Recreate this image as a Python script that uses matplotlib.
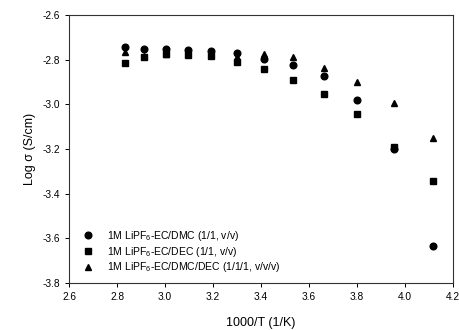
import matplotlib
matplotlib.use('Agg')
import matplotlib.pyplot as plt

plt.rcParams['font.family'] = ['Liberation Sans', 'DejaVu Sans']
plt.rcParams['mathtext.default'] = 'regular'

# 1000/T (1/K), -30..80 C
inv_t = [2.832, 2.914, 3.002, 3.096, 3.193, 3.299, 3.411, 3.532, 3.661, 3.801, 3.953, 4.118]

# log conductivity for each electrolyte
ec_dmc = [-2.742, -2.751, -2.752, -2.757, -2.761, -2.771, -2.795, -2.824, -2.874, -2.982, -3.201, -3.635]
ec_dec = [-2.813, -2.786, -2.776, -2.779, -2.783, -2.809, -2.843, -2.891, -2.955, -3.044, -3.189, -3.342]
ec_dmc_dec = [-2.767, -2.785, -2.774, -2.776, -2.779, -2.789, -2.776, -2.788, -2.839, -2.900, -2.994, -3.149]

labels = ['1M LiPF$_6$-EC/DMC (1/1, v/v)',
          '1M LiPF$_6$-EC/DEC (1/1, v/v)',
          '1M LiPF$_6$-EC/DMC/DEC (1/1/1, v/v/v)']

fig = plt.figure(figsize=(4.6, 3.3), dpi=100)
ax = fig.add_axes([0.15, 0.1424, 0.835, 0.812])

ax.plot(inv_t, ec_dmc, 'o', color='black', ms=4.8, label=labels[0])
ax.plot(inv_t, ec_dec, 's', color='black', ms=4.3, label=labels[1])
ax.plot(inv_t, ec_dmc_dec, '^', color='black', ms=5, label=labels[2])

ax.set_xlim(2.6, 4.2)
ax.set_ylim(-3.8, -2.6)
ax.set_xticks([2.6, 2.8, 3.0, 3.2, 3.4, 3.6, 3.8, 4.0, 4.2])
ax.set_yticks([-3.8, -3.6, -3.4, -3.2, -3.0, -2.8, -2.6])
ax.xaxis.set_major_formatter(matplotlib.ticker.FormatStrFormatter('%.1f'))
ax.yaxis.set_major_formatter(matplotlib.ticker.FormatStrFormatter('%.1f'))
ax.tick_params(direction='out', length=3, width=0.7, labelsize=7.3)
for s in ax.spines.values():
    s.set_linewidth(0.8)
    s.set_color('#333333')

ax.set_xlabel('1000/T (1/K)', fontsize=9, labelpad=11)
ax.set_ylabel('Log σ (S/cm)', fontsize=9, labelpad=4.5)

ax.legend(loc='lower left', frameon=False, fontsize=7.5, handlelength=1.0,
          handletextpad=1.35, labelspacing=0.18, borderpad=0, borderaxespad=0,
          bbox_to_anchor=(0.036, 0.032))

fig.savefig('out.png', dpi=100)
